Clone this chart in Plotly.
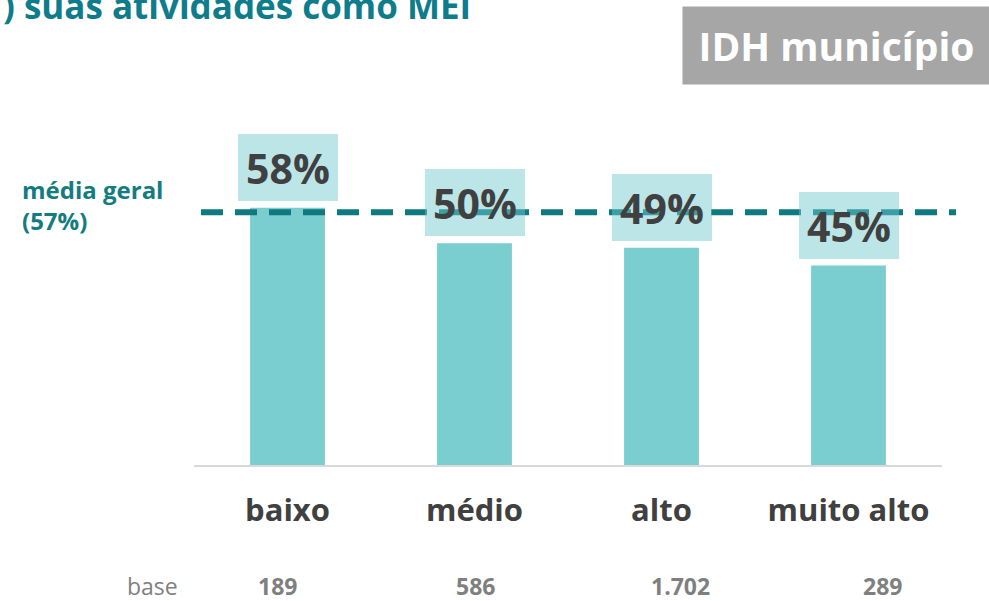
import plotly.graph_objects as go

categorias = ["baixo", "médio", "alto", "muito alto"]
percentuais = [58, 50, 49, 45]
bases = [189, 586, 1702, 289]
media_geral = 57

titulo = ") suas atividades como MEI"
rotulo_caixa = "IDH município"

TEAL = "#0E7A80"
FONT = "Open Sans"

W, H = 989, 601
L, R, T, B = 194, 47, 198.5, 135.5
plot_h = H - T - B
plot_w = W - L - R

def py(px):
    return (H - B - px) / plot_h

def pxx(px):
    return (px - L) / plot_w

def fmt_base(v):
    return f"{v:,}".replace(",", ".")

fig = go.Figure()
fig.add_trace(go.Bar(
    x=categorias, y=percentuais,
    marker=dict(color="#7ACED0", line=dict(width=0)),
    hoverinfo="skip",
))

fig.add_shape(
    type="line", xref="paper", yref="y",
    x0=pxx(201), x1=pxx(956), y0=media_geral, y1=media_geral,
    line=dict(color=TEAL, width=6, dash="22px,12px"),
    layer="above",
)

annotations = []
for c, v in zip(categorias, percentuais):
    annotations.append(dict(
        x=c, y=v, xref="x", yref="y", yanchor="bottom", yshift=7,
        text=f"<b>{v}%</b>", showarrow=False,
        width=100, height=67, bgcolor="rgba(110,200,204,0.47)",
        borderpad=0, borderwidth=0,
        font=dict(family=FONT, size=41, color="#404040"),
    ))

xshifts = [-10, 1, 19, 34]
for c, b, s in zip(categorias, bases, xshifts):
    annotations.append(dict(
        x=c, y=py(587), xref="x", yref="paper", yanchor="middle",
        xshift=s, text=f"<b>{fmt_base(b)}</b>", showarrow=False,
        font=dict(family=FONT, size=23, color="#7F7F7F"),
    ))
annotations.append(dict(
    x=pxx(125), y=py(587), xref="paper", yref="paper", xanchor="left",
    yanchor="middle", text="base", showarrow=False,
    font=dict(family=FONT, size=23, color="#7F7F7F"),
))

annotations.append(dict(
    x=pxx(20), y=py(205), xref="paper", yref="paper", xanchor="left",
    yanchor="middle", align="left",
    text=f"<b>média geral<br>({media_geral}%)</b>", showarrow=False,
    font=dict(family=FONT, size=24, color="#137C80"),
))

annotations.append(dict(
    x=pxx(682), y=py(5), xref="paper", yref="paper", xanchor="left",
    yanchor="top", width=307, height=77, bgcolor="#A6A6A6",
    borderpad=0, text=f"<b>{rotulo_caixa}</b>", showarrow=False,
    font=dict(family=FONT, size=39, color="white"),
))

annotations.append(dict(
    x=pxx(473), y=py(30), xref="paper", yref="paper", xanchor="right",
    yanchor="bottom", text=f"<b>{titulo}</b>", showarrow=False,
    font=dict(family=FONT, size=35, color="#0E7C8B"),
))

fig.update_layout(
    width=W, height=H,
    margin=dict(l=L, r=R, t=T, b=B, pad=0),
    paper_bgcolor="white", plot_bgcolor="rgba(0,0,0,0)",
    bargap=0.6, showlegend=False,
    annotations=annotations,
    xaxis=dict(
        showline=True, linecolor="#D9D9D9", linewidth=2,
        showgrid=False, zeroline=False, ticks="",
        ticklabelstandoff=17,
        tickfont=dict(family=FONT, size=31, color="#404040", weight="bold"),
        fixedrange=True,
    ),
    yaxis=dict(
        range=[0, 60], visible=False, showgrid=False, zeroline=False,
        fixedrange=True,
    ),
)

fig.write_html(
    "out.html",
    config={"displayModeBar": False},
    post_script="document.body.style.margin='0';document.body.style.overflow='hidden';",
)
